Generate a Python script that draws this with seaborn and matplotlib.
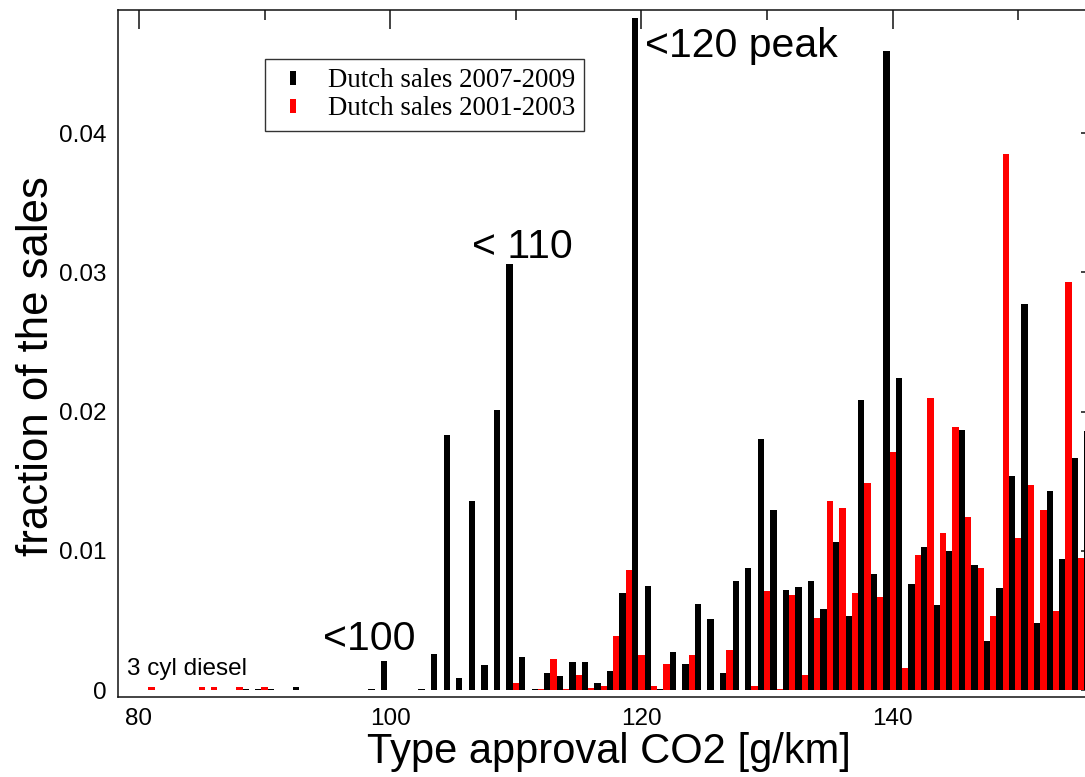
import numpy as np
import pandas as pd
import matplotlib
matplotlib.use("Agg")
import matplotlib.pyplot as plt
from matplotlib.ticker import MultipleLocator, FuncFormatter
from matplotlib.lines import Line2D
import seaborn as sns

# Type approval CO2 emission per car, g/km
co2 = list(range(80, 156))

# Fraction of Dutch new-car sales in each CO2 bin, 2007-2009
sales_2007_2009 = [
    0, 0, 0, 0, 0, 0, 0, 0, 0.0001, 0.0001,            # 80-89
    0.0001, 0, 0.0002, 0, 0, 0, 0, 0, 0.0001, 0.0021,  # 90-99
    0, 0, 0.0001, 0.0026, 0.0183, 0.0009, 0.0136, 0.0018, 0.0201, 0.0306,  # 100-109
    0.0024, 0.0001, 0.0012, 0.0010, 0.0020, 0.0020, 0.0005, 0.0014, 0.0070, 0.0483,  # 110-119
    0.0075, 0.0001, 0.0027, 0.0019, 0.0062, 0.0051, 0.0012, 0.0078, 0.0088, 0.0180,  # 120-129
    0.0129, 0.0072, 0.0074, 0.0078, 0.0058, 0.0106, 0.0053, 0.0208, 0.0083, 0.0459,  # 130-139
    0.0224, 0.0076, 0.0103, 0.0061, 0.0100, 0.0187, 0.0090, 0.0035, 0.0073, 0.0154,  # 140-149
    0.0277, 0.0048, 0.0143, 0.0094, 0.0167, 0.0186,    # 150-155
]

# Fraction of Dutch new-car sales in each CO2 bin, 2001-2003
sales_2001_2003 = [
    0, 0.0002, 0, 0, 0, 0.0002, 0.0002, 0, 0.0002, 0,  # 80-89
    0.0002, 0, 0, 0, 0, 0, 0, 0, 0, 0,                  # 90-99
    0, 0, 0, 0, 0, 0, 0, 0, 0, 0,                       # 100-109
    0.0005, 0, 0.0001, 0.0022, 0.0001, 0.0011, 0.00015, 0.00026, 0.0039, 0.0086,  # 110-119
    0.0025, 0.0003, 0.0019, 0, 0.0025, 0, 0, 0.0029, 0, 0.0003,  # 120-129
    0.0071, 0.00005, 0.0068, 0.0011, 0.0052, 0.0136, 0.0131, 0.0070, 0.0149, 0.0067,  # 130-139
    0.0171, 0.0016, 0.0097, 0.0210, 0.0113, 0.0189, 0.0124, 0.0088, 0.0053, 0.0385,  # 140-149
    0.0109, 0.0147, 0.0129, 0.0057, 0.0293, 0.0095,    # 150-155
]

label_new = "Dutch sales 2007-2009"
label_old = "Dutch sales 2001-2003"
colors = {label_new: "#000000", label_old: "#ff0000"}

df = pd.concat([
    pd.DataFrame({"co2": co2, "fraction": sales_2001_2003, "period": label_old}),
    pd.DataFrame({"co2": co2, "fraction": sales_2007_2009, "period": label_new}),
], ignore_index=True)

sns.set_style("white")
plt.rcParams["font.family"] = ["Liberation Sans", "DejaVu Sans"]
plt.rcParams["text.color"] = "black"
plt.rcParams["axes.labelcolor"] = "black"
plt.rcParams["xtick.color"] = "black"
plt.rcParams["ytick.color"] = "black"

fig = plt.figure(figsize=(10.85, 7.77), dpi=100)
ax = fig.add_axes([118 / 1085, 80 / 777, 982 / 1085, 687 / 777])

# one bin per g/km; the two periods sit side by side inside each bin
edges = (np.arange(co2[0], co2[-1] + 2) - 0.25).tolist()
sns.histplot(
    data=df, x="co2", weights="fraction", hue="period",
    hue_order=[label_old, label_new], palette=colors,
    bins=edges, multiple="dodge", shrink=1.0, alpha=1.0,
    linewidth=0, legend=False, ax=ax,
)

ax.set_xlim(78.33, 156.5)
ax.set_ylim(-0.0005, 0.04884)

ax.xaxis.set_major_locator(MultipleLocator(20))
ax.xaxis.set_minor_locator(MultipleLocator(10))
ax.yaxis.set_major_locator(MultipleLocator(0.01))
ax.yaxis.set_minor_locator(MultipleLocator(0.005))
ax.yaxis.set_major_formatter(FuncFormatter(lambda v, p: "0" if abs(v) < 1e-12 else f"{v:g}"))

for s in ax.spines.values():
    s.set_color("#111111")
    s.set_linewidth(1.1)
    s.set_visible(True)

ax.tick_params(which="both", direction="in", top=True, right=True,
               color="#111111", labelcolor="black", width=1.1,
               labelsize=17.5, pad=8)
ax.tick_params(which="major", length=13.7)
ax.tick_params(which="minor", length=7.2)

ax.set_xlabel("Type approval CO2 [g/km]", fontsize=30, labelpad=1)
ax.set_ylabel("fraction of the sales", fontsize=31.5)
ax.yaxis.set_label_coords(-0.062, 0.482)

ax.text(120.3, 0.04546, "<120 peak", fontsize=29.5, va="baseline", ha="left")
ax.text(106.5, 0.03103, "< 110", fontsize=29.5, va="baseline", ha="left")
ax.text(94.65, 0.00290, "<100", fontsize=29.5, va="baseline", ha="left")
ax.text(79.05, 0.00110, "3 cyl diesel", fontsize=17.5, va="baseline", ha="left")

# narrow upright bar used as the legend key
bar_key = [(-0.18, -0.5), (0.18, -0.5), (0.18, 0.5), (-0.18, 0.5), (-0.18, -0.5)]
handles = [Line2D([], [], linestyle="none", marker=bar_key, markersize=10.5,
                  markerfacecolor=colors[lab], markeredgewidth=0)
           for lab in (label_new, label_old)]
leg = fig.legend(
    handles, [label_new, label_old], loc="upper left",
    bbox_to_anchor=(265 / 1085, 1 - 59 / 777), bbox_transform=fig.transFigure,
    prop={"family": ["Liberation Serif", "DejaVu Serif"], "size": 19.4},
    frameon=True, fancybox=False, shadow=False, borderaxespad=0,
    borderpad=0.34, handlelength=1.42, handletextpad=0.56,
    labelspacing=0.12,
)
leg.get_frame().set_edgecolor("#000000")
leg.get_frame().set_linewidth(1.0)

fig.savefig("out.png", dpi=100, facecolor="white")
